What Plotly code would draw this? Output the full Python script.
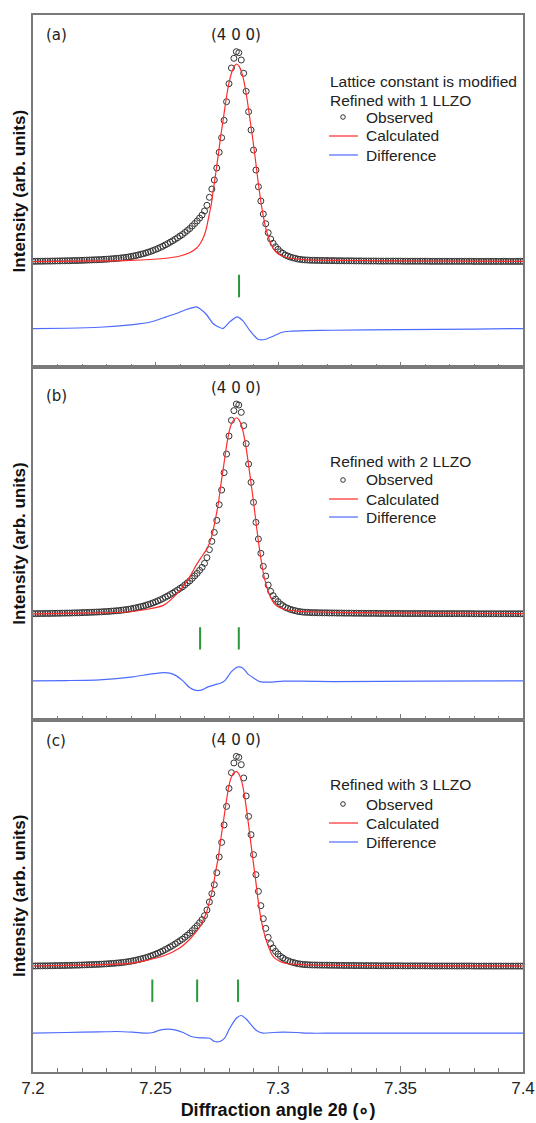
import plotly.graph_objects as go
from plotly.subplots import make_subplots

# ---------------- data (intensities in arbitrary units) ----------------
scan_start = 7.200
scan_step = 0.001
two_theta = [round(scan_start + scan_step * i, 4) for i in range(201)]

observed = [
    0.7, 0.7, 0.8, 0.8, 0.8, 0.9, 0.9, 0.9, 1.0, 1.0,
    1.1, 1.1, 1.2, 1.2, 1.3, 1.3, 1.4, 1.5, 1.5, 1.6,
    1.7, 1.8, 1.9, 2.0, 2.1, 2.2, 2.3, 2.4, 2.5, 2.7,
    2.8, 3.0, 3.2, 3.4, 3.6, 3.8, 4.1, 4.4, 4.7, 5.1,
    5.5, 6.0, 6.5, 7.1, 7.7, 8.3, 9.0, 9.8, 10.6, 11.5,
    12.5, 13.5, 14.6, 15.8, 17.1, 18.4, 19.8, 21.2, 22.7, 24.3,
    26.0, 27.5, 29.5, 31.5, 33.5, 36.0, 38.5, 41.0, 44.0, 47.0,
    51.0, 56.7, 64.7, 73.0, 82.0, 94.0, 109.7, 124.3, 141.7, 160.3,
    178.3, 194.0, 203.7, 210.3, 209.3, 202.0, 188.7, 170.7, 150.3, 132.0,
    112.0, 92.0, 75.3, 61.0, 48.0, 38.3, 29.3, 23.0, 18.7, 15.3,
    12.7, 10.3, 8.7, 7.0, 6.0, 5.0, 4.3, 3.7, 3.0, 2.7,
    2.3, 2.1, 2.0, 1.8, 1.7, 1.7, 1.6, 1.6, 1.5, 1.5,
    1.5, 1.4, 1.4, 1.4, 1.3, 1.3, 1.3, 1.2, 1.2, 1.2,
    1.2, 1.1, 1.1, 1.1, 1.1, 1.0, 1.0, 1.0, 1.0, 1.0,
    1.0, 0.9, 0.9, 0.9, 0.9, 0.9, 0.9, 0.9, 0.9, 0.9,
    0.9, 0.8, 0.8, 0.8, 0.8, 0.8, 0.8, 0.8, 0.8, 0.8,
    0.8, 0.8, 0.7, 0.7, 0.7, 0.7, 0.7, 0.7, 0.7, 0.7,
    0.7, 0.7, 0.7, 0.7, 0.7, 0.7, 0.7, 0.7, 0.7, 0.7,
    0.6, 0.6, 0.6, 0.6, 0.6, 0.6, 0.6, 0.6, 0.6, 0.6,
    0.6, 0.6, 0.6, 0.6, 0.6, 0.6, 0.6, 0.6, 0.6, 0.6,
    0.6,
]

calc_x = [
    7.2000, 7.2200, 7.2396, 7.2532, 7.2600, 7.2641, 7.2668, 7.2684, 7.2698,
    7.2709, 7.2718, 7.2728, 7.2736, 7.2746, 7.2757, 7.2767, 7.2780, 7.2791,
    7.2801, 7.2812, 7.2822, 7.2831, 7.2842, 7.2853, 7.2864, 7.2875, 7.2886,
    7.2897, 7.2908, 7.2918, 7.2929, 7.2940, 7.2951, 7.2962, 7.2974, 7.2988,
    7.3008, 7.3035, 7.3076, 7.3131, 7.3300, 7.3600, 7.4000,
]
calc_a = [
    0.3, 0.8, 1.6, 3.5, 6.0, 9.5, 14.0, 19.0, 26.0,
    35.0, 46.0, 58.0, 72.0, 89.0, 108.7, 127.0, 148.7, 167.0,
    180.3, 190.3, 196.0, 198.0, 195.3, 188.7, 177.0, 161.0, 142.0,
    123.0, 102.0, 82.0, 62.0, 46.0, 33.0, 24.0, 16.5, 11.0,
    7.0, 4.5, 3.0, 2.0, 1.5, 1.0, 0.7,
]
calc_b = [
    0.5, 1.2, 2.6, 9.0, 24.0, 38.0, 50.0, 56.0, 61.0,
    65.0, 70.0, 77.0, 85.0, 97.0, 111.6, 130.0, 151.6, 170.0,
    183.3, 191.6, 195.0, 196.6, 194.0, 187.3, 175.0, 158.3, 138.3,
    118.3, 96.6, 76.6, 57.6, 41.6, 30.0, 21.6, 15.0, 10.0,
    6.6, 4.6, 3.3, 2.6, 1.8, 1.2, 0.8,
]
calc_c = [
    0.7, 1.6, 3.3, 10.7, 19.0, 27.7, 35.5, 41.0, 48.4,
    55.0, 63.0, 72.0, 81.0, 96.0, 110.0, 128.4, 150.0, 168.4,
    182.4, 191.0, 194.4, 195.0, 192.0, 184.0, 170.0, 151.0, 130.0,
    108.5, 88.0, 68.0, 50.0, 37.0, 27.0, 19.5, 12.5, 8.3,
    5.3, 3.2, 2.3, 1.7, 1.2, 0.9, 0.7,
]

diff_a_x = [7.2000, 7.2136, 7.2272, 7.2408, 7.2476, 7.2544, 7.2585, 7.2626, 7.2667,
            7.2680, 7.2707, 7.2735, 7.2755, 7.2776, 7.2803, 7.2833, 7.2857, 7.2884,
            7.2918, 7.2946, 7.2980, 7.3014, 7.3048, 7.3116, 7.3224, 7.3500, 7.3800, 7.4000]
diff_a = [0.0, 0.3, 1.3, 4.0, 6.3, 11.7, 15.0, 19.0, 21.7,
          20.0, 14.3, 5.0, 1.7, 0.0, 6.7, 11.7, 7.7, -1.7,
          -10.7, -11.0, -7.7, -4.0, -2.7, -2.0, -1.7, -1.0, -0.5, 0.0]

diff_b_x = [7.2000, 7.2136, 7.2272, 7.2408, 7.2476, 7.2531, 7.2558, 7.2585, 7.2612,
            7.2639, 7.2660, 7.2687, 7.2714, 7.2741, 7.2762, 7.2782, 7.2810, 7.2837,
            7.2857, 7.2878, 7.2898, 7.2925, 7.2966, 7.3020, 7.3088, 7.3224, 7.3600, 7.4000]
diff_b = [0.0, 0.3, 1.0, 4.0, 6.7, 8.3, 7.7, 5.0, 0.0,
          -6.7, -9.3, -9.3, -6.0, -4.0, -2.7, 0.0, 9.3, 14.0,
          12.7, 6.7, 3.3, -0.7, -1.3, -0.3, -0.3, -0.7, -0.3, 0.0]

diff_c_x = [7.2000, 7.2136, 7.2272, 7.2340, 7.2408, 7.2463, 7.2490, 7.2517, 7.2551,
            7.2578, 7.2612, 7.2646, 7.2680, 7.2721, 7.2741, 7.2762, 7.2782, 7.2803,
            7.2830, 7.2850, 7.2871, 7.2891, 7.2912, 7.2939, 7.2980, 7.3020, 7.3075,
            7.3129, 7.3224, 7.3600, 7.4000]
diff_c = [0.0, 0.7, 1.3, 1.7, 1.0, 0.0, 0.7, 3.0, 4.0,
          3.3, 0.7, -3.3, -4.7, -5.0, -8.3, -8.3, -5.0, 5.0,
          15.0, 17.7, 14.0, 8.3, 2.7, 0.0, 0.7, 1.0, 0.7,
          0.0, 0.0, 0.0, 0.0]

reflections_a = [7.2841]
reflections_b = [7.2682, 7.2840]
reflections_c = [7.2487, 7.2670, 7.2837]

panel_labels = ["(a)", "(b)", "(c)"]
peak_label = "(4 0 0)"
legend_titles = [
    ["Lattice constant is modified", "Refined with 1 LLZO"],
    ["Refined with 2 LLZO"],
    ["Refined with 3 LLZO"],
]
legend_entries = ["Observed", "Calculated", "Difference"]
tick_values = [7.2, 7.25, 7.3, 7.35, 7.4]
tick_text = ["7.2", "7.25", "7.3", "7.35", "7.4"]

# ---------------- style / layout ----------------
W, H = 536, 1123
ML, MR, MT, MB = 33, 13, 15, 51
PW, PH = W - ML - MR, H - MT - MB

def px(xp):
    return (xp - ML) / PW

def py(yp):
    return 1 - (yp - MT) / PH

DIFF_OFFSET = -66.5
TICK_LEVEL = -24.0
Y_RANGE = [-105.3, 247.0]
FRAME = "#7a7a7a"
SANS = "Liberation Sans, Arial, sans-serif"
LABEL_FONT = "DejaVu Sans, Verdana, sans-serif"
TXT = "#222222"
RED = "#ff2b2b"
BLUE = "#4d6bff"
GREEN = "#28993a"
OBS = "#333333"

fig = make_subplots(rows=3, cols=1, shared_xaxes=True, vertical_spacing=0)

calcs = [calc_a, calc_b, calc_c]
diffs = [(diff_a_x, diff_a), (diff_b_x, diff_b), (diff_c_x, diff_c)]
refls = [reflections_a, reflections_b, reflections_c]

for i in range(3):
    row = i + 1
    fig.add_trace(go.Scatter(
        x=two_theta, y=observed, mode="markers", name="Observed", showlegend=False,
        marker=dict(symbol="circle-open", size=6, color=OBS, line=dict(width=1, color=OBS)),
    ), row=row, col=1)
    fig.add_trace(go.Scatter(
        x=calc_x, y=calcs[i], mode="lines", name="Calculated", showlegend=False,
        line=dict(color=RED, width=1.2, shape="spline", smoothing=0.6),
    ), row=row, col=1)
    dx, dv = diffs[i]
    fig.add_trace(go.Scatter(
        x=dx, y=[v + DIFF_OFFSET for v in dv], mode="lines", name="Difference", showlegend=False,
        line=dict(color=BLUE, width=1.2, shape="spline", smoothing=0.6),
    ), row=row, col=1)
    fig.add_trace(go.Scatter(
        x=refls[i], y=[TICK_LEVEL] * len(refls[i]), mode="markers", showlegend=False,
        marker=dict(symbol="line-ns", size=16, line=dict(width=2, color=GREEN)),
    ), row=row, col=1)

# ---- legends (drawn as text + sample marks, pixel-placed) ----
LEG_X = 329
LEG_TEXT_X = 365
legend_title_y = [[81, 100], [462], [785]]
legend_entry_y = [[117, 136, 155], [480, 499, 517], [804, 823, 842]]
LEG_FONT = dict(family=SANS, size=15.5, color=TXT)
for i in range(3):
    for t, yy in zip(legend_titles[i], legend_title_y[i]):
        fig.add_annotation(x=px(LEG_X), y=py(yy), xref="paper", yref="paper", text=t,
                           showarrow=False, xanchor="left", yanchor="middle", font=LEG_FONT,
                           borderpad=0)
    for name, yy in zip(legend_entries, legend_entry_y[i]):
        fig.add_annotation(x=px(LEG_TEXT_X), y=py(yy), xref="paper", yref="paper", text=name,
                           showarrow=False, xanchor="left", yanchor="middle", font=LEG_FONT,
                           borderpad=0)
    oy, cy, dy = legend_entry_y[i]
    fig.add_shape(type="circle", xref="paper", yref="paper", xsizemode="pixel", ysizemode="pixel",
                  xanchor=px(343), yanchor=py(oy), x0=-2.3, x1=2.3, y0=-2.3, y1=2.3,
                  line=dict(color=OBS, width=1))
    fig.add_shape(type="line", xref="paper", yref="paper", x0=px(329), x1=px(358),
                  y0=py(cy), y1=py(cy), line=dict(color=RED, width=1.2))
    fig.add_shape(type="line", xref="paper", yref="paper", x0=px(329), x1=px(358),
                  y0=py(dy), y1=py(dy), line=dict(color=BLUE, width=1.2))

for r in range(1, 4):
    fig.update_xaxes(
        range=[7.2, 7.4], tickmode="array", tickvals=tick_values, ticktext=tick_text,
        ticks="inside", ticklen=6, tickwidth=1, tickcolor=FRAME,
        minor=dict(tickmode="linear", tick0=7.2, dtick=0.01, ticks="inside",
                   ticklen=4, tickwidth=1, tickcolor=FRAME),
        showline=True, linecolor=FRAME, linewidth=1.5, mirror=True,
        showgrid=False, zeroline=False, showticklabels=(r == 3), automargin=False,
        tickfont=dict(family=SANS, size=17, color=TXT),
        row=r, col=1,
    )
    fig.update_yaxes(
        range=Y_RANGE, showticklabels=False, ticks="", showgrid=False, zeroline=False,
        showline=True, linecolor=FRAME, linewidth=1.5, mirror=True, automargin=False,
        title=dict(text="Intensity (arb. units)", standoff=1,
                   font=dict(family=SANS, size=17, color="#111111", weight="bold")),
        row=r, col=1,
    )

fig.update_xaxes(
    title=dict(text="Diffraction angle 2θ (∘)", standoff=6,
               font=dict(family=SANS, size=18, color="#111111", weight="bold")),
    row=3, col=1,
)

label_y = [(35, 35), (396, 388), (741, 740)]
for i in range(3):
    fig.add_annotation(x=px(44), y=py(label_y[i][0]), xref="paper", yref="paper",
                       text=panel_labels[i], showarrow=False, xanchor="left", yanchor="middle",
                       font=dict(family=LABEL_FONT, size=15, color=TXT))
    fig.add_annotation(x=px(236), y=py(label_y[i][1]), xref="paper", yref="paper",
                       text=peak_label, showarrow=False, xanchor="center", yanchor="middle",
                       font=dict(family=LABEL_FONT, size=15, color=TXT))

fig.update_layout(
    width=W, height=H,
    margin=dict(l=ML, r=MR, t=MT, b=MB),
    paper_bgcolor="white", plot_bgcolor="white",
    showlegend=False,
)

fig.write_html(
    "out.html",
    config={"displayModeBar": False},
    post_script="document.body.style.margin='0';document.body.style.overflow='hidden';",
)
